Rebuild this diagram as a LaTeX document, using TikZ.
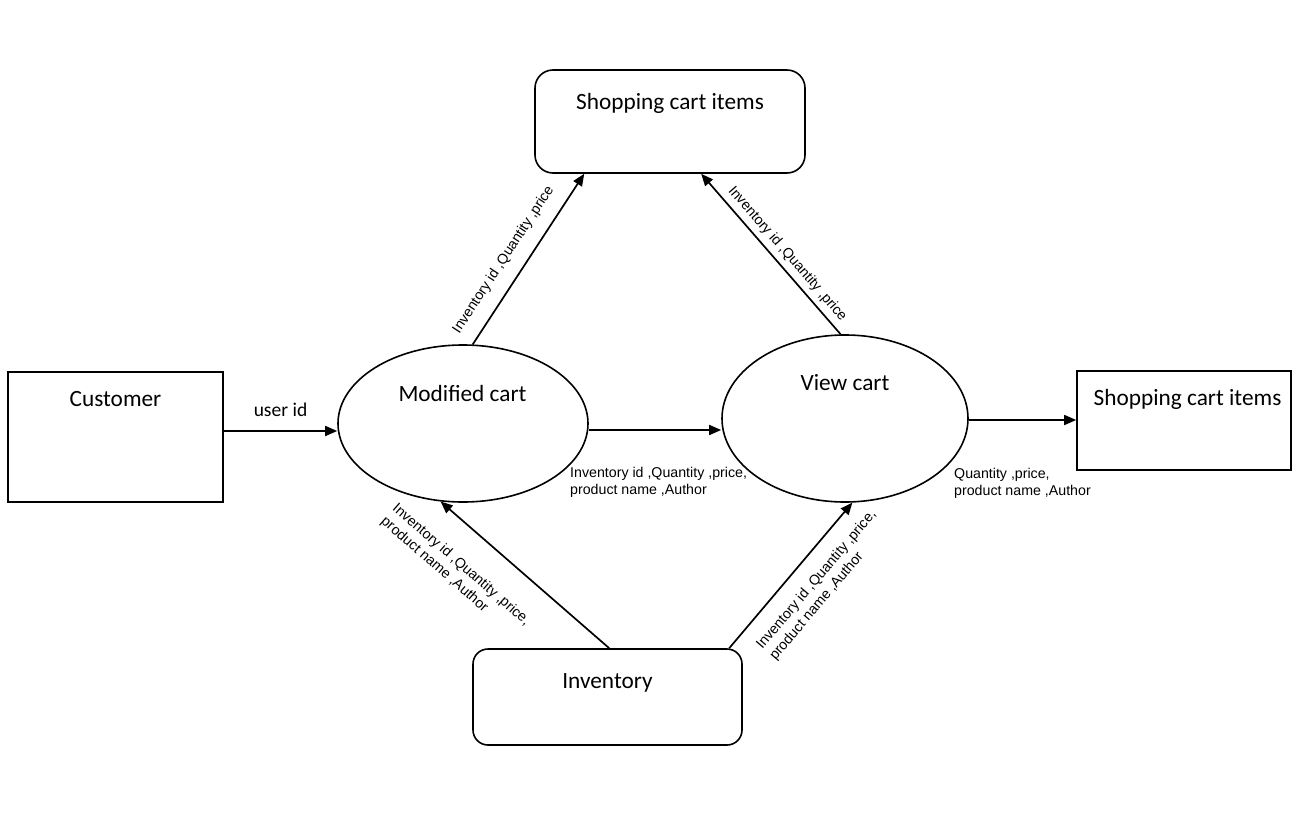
\documentclass[tikz,border=0pt]{standalone}
\usepackage{fontspec}
\setmainfont{Carlito}
\newfontfamily\flowfont{Liberation Sans}
\usetikzlibrary{arrows.meta,shapes.geometric}
\begin{document}
\begin{tikzpicture}[x=1pt,y=-1pt,
  every node/.style={inner sep=0pt},
  ent/.style={draw, rectangle, line width=1.6pt},
  store/.style={draw, rectangle, rounded corners=18pt, line width=1.6pt},
  proc/.style={draw, ellipse, line width=1.6pt},
  title/.style={font=\fontsize{23.3}{27}\selectfont, anchor=base},
  flow/.style={font=\flowfont\fontsize{14.2}{17.4}\selectfont, align=left},
  arr/.style={line width=1.7pt, -{Triangle[length=12pt,width=10pt]}}]

\fill[white] (0,0) rectangle (1307,822);
\useasboundingbox (0,0) rectangle (1307,822);

% entities, stores and processes
\node[store, minimum width=270pt, minimum height=103pt] (cartTop) at (670,121.5) {};
\node[ent, minimum width=215pt, minimum height=130pt] (cust) at (115.5,437) {};
\node[ent, minimum width=214pt, minimum height=99pt] (cartRight) at (1184,420.5) {};
\node[store, rounded corners=15pt, minimum width=269pt, minimum height=96pt] (inv) at (607.5,697) {};
\node[proc, minimum width=250pt, minimum height=157pt] (mc) at (463,423.5) {};
\node[proc, minimum width=246pt, minimum height=167pt] (vc) at (845,418.5) {};

% their titles
\node[title] (cartTopT) at (670,109) {Shopping cart items};
\node[title] (custT) at (115.5,406) {Customer};
\node[title] (cartRightT) at (1187.5,405) {Shopping cart items};
\node[title] (invT) at (607.5,688) {Inventory};
\node[title] (mcT) at (462.5,401) {Modified cart};
\node[title] (vcT) at (845,390) {View cart};

% data flows
\draw[arr] ([yshift=6pt]cust.east) -- ([yshift=6pt]cust.east -| mc.west)
  node[pos=0.5, font=\fontsize{19.5}{22}\selectfont, anchor=base, yshift=15pt] (uid) {user id};

\draw[arr] ([yshift=-6.5pt]mc.east) -- ([yshift=-6.5pt]mc.east -| vc.west);
\node[flow, anchor=north west] (f1) at (570,467)
  {Inventory id ,Quantity ,price,\\product name ,Author};

\draw[arr] ([yshift=-1.5pt]vc.east) -- ([yshift=-1.5pt]vc.east -| cartRight.west);
\node[flow, anchor=north west] (f2) at (954,468)
  {Quantity ,price,\\product name ,Author};

\draw[arr] (mc.83) -- ([xshift=50pt]cartTop.south west)
  node[flow, pos=0.43, sloped, above=13pt] (f3) {Inventory id ,Quantity ,price};

\draw[arr] (vc.93) -- ([xshift=167pt]cartTop.south west)
  node[flow, pos=0.45, sloped, above=5pt] (f4) {Inventory id ,Quantity ,price};

\draw[arr] ([xshift=137pt]inv.north west) -- (mc.254)
  node[flow, pos=0.745, sloped, below=27pt] (f5)
  {Inventory id ,Quantity ,price,\\product name ,Author};

\draw[arr] ([xshift=257pt]inv.north west) -- (vc.275)
  node[flow, pos=0.57, sloped, below=15pt] (f6)
  {Inventory id ,Quantity ,price,\\product name ,Author};

\end{tikzpicture}
\end{document}
